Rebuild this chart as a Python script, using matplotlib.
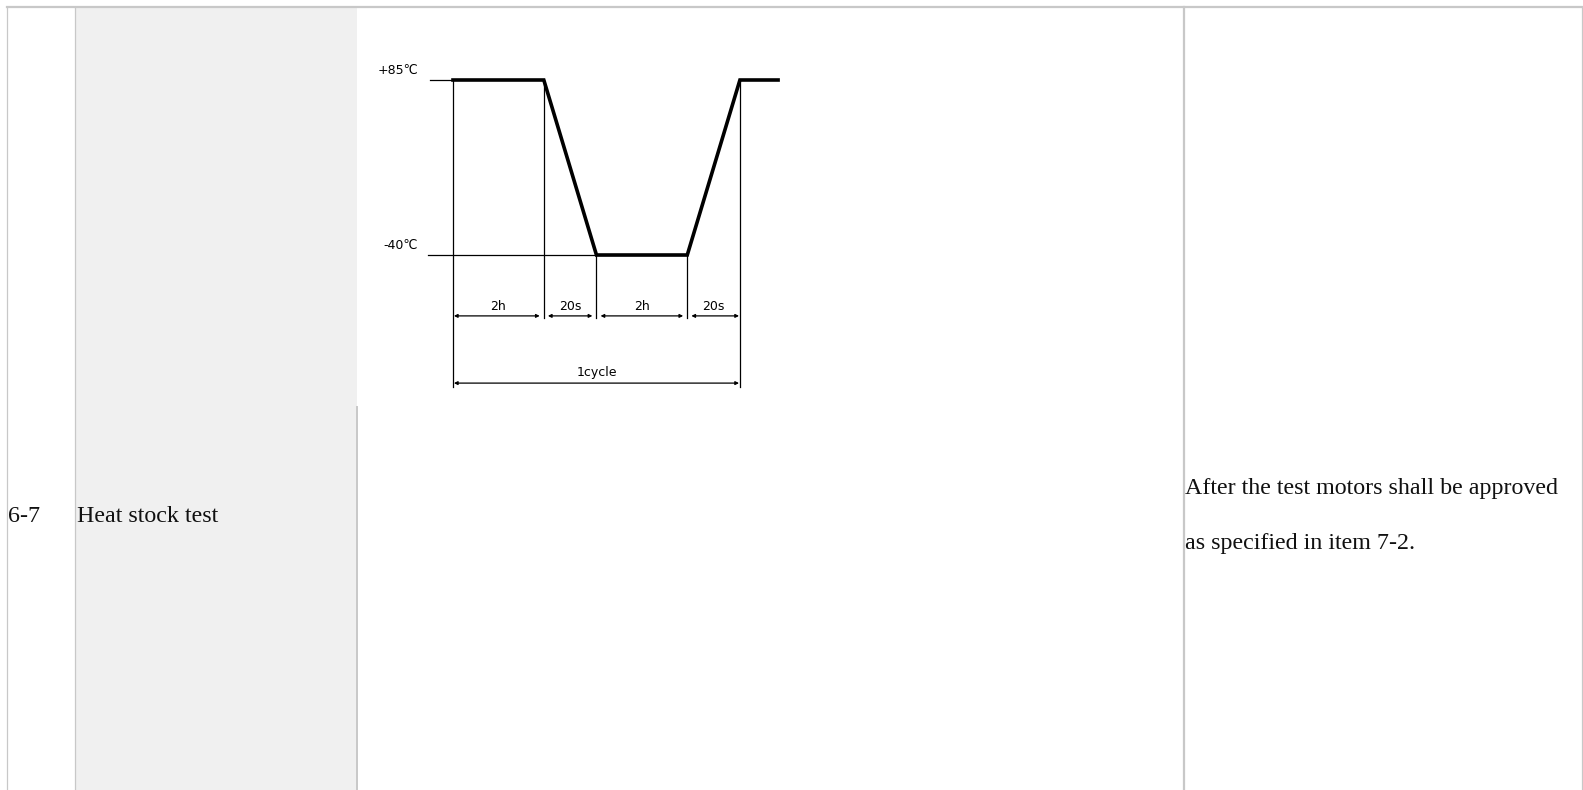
import matplotlib
matplotlib.use('Agg')
import matplotlib.pyplot as plt
from matplotlib.patches import Rectangle

W, H = 1583, 790

# table row text
item_no = '6-7'
item_name = 'Heat stock test'
criteria = ['After the test motors shall be approved', 'as specified in item 7-2.']

# thermal shock cycle (schematic, not to scale)
t_hi, t_lo = 85, -40
temp_labels = ['+85℃', '-40℃']
seg_labels = ['2h', '20s', '2h', '20s']
seg_widths = [1.0, 0.58, 1.0, 0.58]
tail_width = 0.42
cycle_label = '1cycle'

# breakpoints of the cycle
t_pts = [0.0]
for w in seg_widths:
    t_pts.append(t_pts[-1] + w)
prof_t = t_pts + [t_pts[-1] + tail_width]
prof_T = [t_hi, t_hi, t_lo, t_lo, t_hi, t_hi]

fig = plt.figure(figsize=(W / 100, H / 100), dpi=100)

# ---- table background ----
bg = fig.add_axes([0, 0, 1, 1])
bg.set_xlim(0, W)
bg.set_ylim(H, 0)
bg.axis('off')
bg.add_patch(Rectangle((76, 7), 281, H, fc='#f0f0f0', ec='none'))
line_c = '#c8c8c8'
bg.plot([7, 1582], [7, 7], color=line_c, lw=1.6)
bg.plot([7, 7], [7, H], color=line_c, lw=0.9)
bg.plot([75.5, 75.5], [7, H], color=line_c, lw=0.9)
bg.plot([357.5, 357.5], [407, H], color=line_c, lw=1.4)
bg.plot([1184, 1184], [7, H], color=line_c, lw=1.6)
bg.plot([1582, 1582], [7, H], color=line_c, lw=0.9)

serif = dict(family='Liberation Serif', fontsize=17.3, color='#111111', va='baseline')
bg.text(8, 522, item_no, **serif)
bg.text(77, 522, item_name, **serif)
for i, s in enumerate(criteria):
    bg.text(1185, 494 + i * 55, s, **serif)

# ---- cycle diagram ----
px_l, px_r, px_t, px_b = 360, 800, 40, 400
ax = fig.add_axes([px_l / W, 1 - px_b / H, (px_r - px_l) / W, (px_b - px_t) / H])
x0_px, x_scale = 453, 90.8
y_hi_px, y_scale = 80, 1.4
ax.set_xlim((px_l - x0_px) / x_scale, (px_r - x0_px) / x_scale)
ax.set_ylim(t_hi - (px_b - y_hi_px) / y_scale, t_hi + (y_hi_px - px_t) / y_scale)
ax.axis('off')
ax.patch.set_alpha(0)

k = 'black'
# temperature reference lines
ax.plot([-0.25, 0], [t_hi, t_hi], color=k, lw=0.9)
ax.plot([-0.275, t_pts[3]], [t_lo, t_lo], color=k, lw=0.9)
# profile
ax.plot(prof_t, prof_T, color=k, lw=2.6, solid_joinstyle='miter')

dim1 = -83.5
dim2 = -131.5
# extension lines
ax.plot([t_pts[0], t_pts[0]], [t_hi, dim2 - 3], color=k, lw=0.9)
ax.plot([t_pts[4], t_pts[4]], [t_hi, dim2 - 3], color=k, lw=0.9)
ax.plot([t_pts[1], t_pts[1]], [t_hi, dim1 - 1.5], color=k, lw=0.9)
ax.plot([t_pts[2], t_pts[2]], [t_lo, dim1 - 1.5], color=k, lw=0.9)
ax.plot([t_pts[3], t_pts[3]], [t_lo, dim1 - 1.5], color=k, lw=0.9)

cad = dict(family='DejaVu Sans', fontsize=9, color=k)
ax.text(-0.385, t_hi + 6.5, temp_labels[0], ha='right', va='center', **cad)
ax.text(-0.385, t_lo + 6.5, temp_labels[1], ha='right', va='center', **cad)

arrow = dict(arrowstyle='<|-|>', color=k, lw=0.9, mutation_scale=5,
             shrinkA=0, shrinkB=0)
for i, lab in enumerate(seg_labels):
    a = t_pts[i] + (0.01 if i == 0 else 0.045)
    b = t_pts[i + 1] - (0.01 if i == len(seg_labels) - 1 else 0.045)
    ax.annotate('', xy=(a, dim1), xytext=(b, dim1), arrowprops=arrow)
    ax.text((t_pts[i] + t_pts[i + 1]) / 2, dim1 + 2, lab, ha='center', va='bottom', **cad)

ax.annotate('', xy=(t_pts[0] + 0.01, dim2), xytext=(t_pts[4] - 0.01, dim2), arrowprops=arrow)
ax.text((t_pts[0] + t_pts[4]) / 2, dim2 + 3, cycle_label, ha='center', va='bottom', **cad)

fig.savefig('out.png', dpi=100)
